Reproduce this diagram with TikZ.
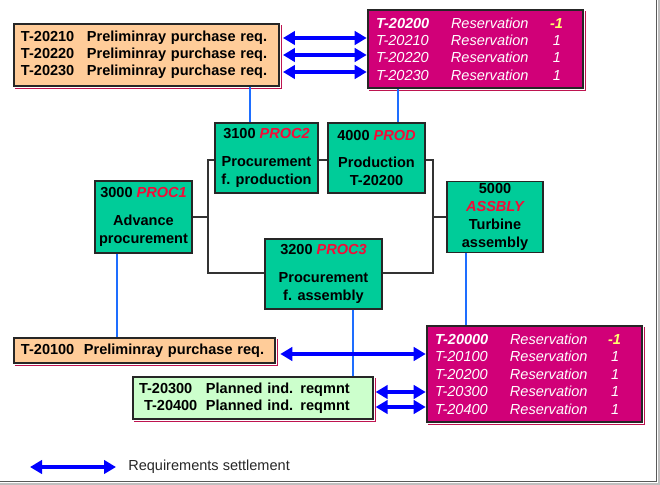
\documentclass[tikz,border=0pt]{standalone}
\usepackage{fontspec}
\setmainfont{Liberation Sans}
\usetikzlibrary{arrows.meta}
\definecolor{peach}{RGB}{255,204,153}
\definecolor{magbox}{RGB}{209,0,120}
\definecolor{procgreen}{RGB}{0,204,153}
\definecolor{lightgreen}{RGB}{204,255,204}
\definecolor{procred}{RGB}{245,10,55}
\definecolor{linkblue}{RGB}{30,110,255}
\definecolor{reqblue}{RGB}{0,0,255}
\definecolor{resyellow}{RGB}{255,255,110}
\definecolor{shadowred}{RGB}{190,20,80}
\newcommand{\procname}[1]{\textcolor{procred}{\itshape #1}}
\newcommand{\resrow}[5]{\makebox[56.25pt][l]{#1}\makebox[#4][l]{Reservation}\makebox[#5][r]{#2#3}}
\begin{document}
\begin{tikzpicture}[x=0.75pt,y=-0.75pt,
  boxbase/.style={draw=black!85, line width=0.9pt, inner ysep=0pt, align=left},
  reqbox/.style={boxbase, fill=peach, font=\fontsize{10.9}{12.75}\selectfont\bfseries, inner xsep=5.25pt},
  planbox/.style={boxbase, fill=lightgreen, font=\fontsize{10.9}{12.75}\selectfont\bfseries, inner xsep=4.5pt},
  resbox/.style={boxbase, fill=magbox, text=white, font=\fontsize{10.9}{13}\selectfont\itshape, inner xsep=6pt, text width=149.25pt},
  procbox/.style={draw=black!85, line width=1pt, fill=procgreen, inner sep=0pt, align=center, font=\fontsize{10.9}{13.5}\selectfont\bfseries},
  conn/.style={draw=black!80, line width=1pt},
  link/.style={draw=linkblue, line width=0.9pt},
  shadowline/.style={draw=shadowred, line width=0.8pt},
  req/.style={draw=reqblue, line width=2.4pt, {Triangle[length=9pt,width=10pt]}-{Triangle[length=9pt,width=10pt]}}
]
\useasboundingbox (0,0) rectangle (660,485);
% frame shadow
\draw[line width=1.2pt, black!65] (0,481.5) -- (656.5,481.5) -- (656.5,0);
\draw[line width=1.5pt, black!25] (0,483.5) -- (658.5,483.5) -- (658.5,0);

% top requirement boxes
\node[reqbox, text width=188.25pt, minimum height=46.5pt] (o1) at (146.5,55)
  {\makebox[49.5pt][l]{T-20210}Preliminray purchase req.\\
   \makebox[49.5pt][l]{T-20220}Preliminray purchase req.\\
   \makebox[49.5pt][l]{T-20230}Preliminray purchase req.};
\node[resbox, minimum height=58.5pt] (m1) at (475.5,49)
  {\resrow{\bfseries T-20200}{\color{resyellow}\bfseries}{-1}{70.5pt}{13.5pt}\\
   \resrow{T-20210}{}{1}{70.5pt}{12pt}\\
   \resrow{T-20220}{}{1}{70.5pt}{12pt}\\
   \resrow{T-20230}{}{1}{70.5pt}{12pt}};

% process boxes
\node[procbox, minimum width=77.25pt, minimum height=52.5pt] (p3100) at (266.5,158)
  {3100 \procname{PROC2}\\[7pt] Procurement\\ f. production};
\node[procbox, minimum width=72.75pt, minimum height=52.5pt] (p4000) at (376.5,158)
  {4000 \procname{PROD}\\[7pt] Production\\ T-20200};
\node[procbox, minimum width=72.75pt, minimum height=54pt] (p3000) at (143.5,217)
  {3000 \procname{PROC1}\\[7pt] Advance\\ procurement};
\node[procbox, minimum width=87.75pt, minimum height=52.5pt] (p3200) at (323.5,274)
  {3200 \procname{PROC3}\\[7pt] Procurement\\ f. assembly};
\node[procbox, minimum width=72pt, minimum height=53.25pt, font=\fontsize{10.9}{13.3}\selectfont\bfseries] (p5000) at (495,217)
  {5000\\ \procname{ASSBLY}\\ Turbine\\ assembly};

% bottom boxes
\node[reqbox, text width=185.25pt, minimum height=18.75pt] (o2) at (144.5,350.5)
  {\makebox[47.25pt][l]{T-20100}Preliminray purchase req.};
\node[planbox, text width=171pt, minimum height=31.5pt] (g) at (253,398)
  {\makebox[50.25pt][l]{T-20300}Planned ind. reqmnt\\
   \hspace*{3.75pt}\makebox[46.5pt][l]{T-20400}Planned ind. reqmnt};
\node[resbox, minimum height=72pt, font=\fontsize{10.9}{13.1}\selectfont\itshape] (m2) at (534.5,374)
  {\resrow{\bfseries T-20000}{\color{resyellow}\bfseries}{-1}{69pt}{14.25pt}\\
   \resrow{T-20100}{}{1}{69pt}{13pt}\\
   \resrow{T-20200}{}{1}{69pt}{13pt}\\
   \resrow{T-20300}{}{1}{69pt}{13pt}\\
   \resrow{T-20400}{}{1}{69pt}{13pt}};

% thin crimson shadows on the lower and right edges
\foreach \b in {o1,m1,o2,g,m2}{
  \draw[shadowline] ([shift={(1.5,1.6)}]\b.south west) -- ([shift={(1.6,1.6)}]\b.south east) -- ([shift={(1.6,1.5)}]\b.north east);
}

% junction coordinates
\coordinate (ja) at (208,160);
\coordinate (jb) at (208,273);
\coordinate (jc) at (433,160);
\coordinate (jd) at (433,273);
% black connectors
\draw[conn] (p3100.west|-ja) -- (ja) -- (jb) -- (p3200.west|-jb);
\draw[conn] (p3000.east) -- (p3000.east-|ja);
\draw[conn] (p3100.east|-ja) -- (p4000.west|-ja);
\draw[conn] (p4000.east|-jc) -- (jc) -- (jd) -- (p3200.east|-jd);
\draw[conn] (p5000.west) -- (p5000.west-|jc);

% thin blue links
\coordinate (v1) at (250,0);
\coordinate (v2) at (398,0);
\coordinate (v3) at (117,0);
\coordinate (v4) at (353,0);
\coordinate (v5) at (466,0);
\draw[link] (o1.south-|v1) -- (p3100.north-|v1);
\draw[link] (m1.south-|v2) -- (p4000.north-|v2);
\draw[link] (p3000.south-|v3) -- (o2.north-|v3);
\draw[link] (p3200.south-|v4) -- (g.north-|v4);
\draw[link] (p5000.south-|v5) -- (m2.north-|v5);

% requirement settlement arrows
\coordinate (r1) at (0,38);
\coordinate (r2) at (0,55);
\coordinate (r3) at (0,72);
\coordinate (r4) at (0,354);
\coordinate (r5) at (0,392);
\coordinate (r6) at (0,407);
\draw[req, shorten <=2.5pt, shorten >=0.5pt] (o1.east|-r1) -- (m1.west|-r1);
\draw[req, shorten <=2.5pt, shorten >=0.5pt] (o1.east|-r2) -- (m1.west|-r2);
\draw[req, shorten <=2.5pt, shorten >=0.5pt] (o1.east|-r3) -- (m1.west|-r3);
\draw[req, shorten <=3.5pt, shorten >=0.5pt] (o2.east|-r4) -- (m2.west|-r4);
\draw[req, shorten <=1.5pt, shorten >=0.5pt] (g.east|-r5) -- (m2.west|-r5);
\draw[req, shorten <=1.5pt, shorten >=0.5pt] (g.east|-r6) -- (m2.west|-r6);

% legend
\coordinate (la) at (30,467);
\coordinate (lb) at (116,467);
\draw[req] (la) -- (lb);
\node[anchor=west, inner sep=0pt, text=black!85, font=\fontsize{10.9}{13}\selectfont] (leg) at (128,467) {Requirements settlement};
\end{tikzpicture}
\end{document}
